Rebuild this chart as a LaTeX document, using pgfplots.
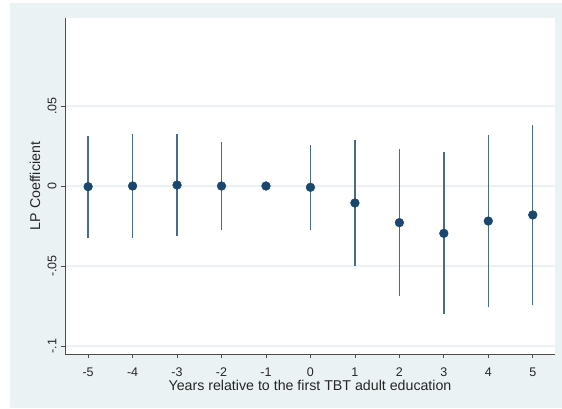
\documentclass[border=0pt]{standalone}
\usepackage{pgfplots}
\pgfplotsset{compat=1.18}
\usepackage{fontspec}
\setmainfont{Liberation Sans}
\definecolor{bg}{RGB}{234,242,243}
\definecolor{stgrid}{RGB}{234,242,243}
\definecolor{navy}{RGB}{26,71,111}
\pgfplotstableread{
x y ep em
-5 -0.0004 0.0318 0.0319
-4 0.0000 0.0325 0.0325
-3 0.0006 0.0319 0.0319
-2 0.0000 0.0275 0.0275
-1 0.0000 0.0000 0.0000
0 -0.0008 0.0266 0.0267
1 -0.0106 0.0396 0.0394
2 -0.0229 0.0460 0.0461
3 -0.0296 0.0509 0.0504
4 -0.0219 0.0539 0.0539
5 -0.0181 0.0561 0.0561
}\coef
\begin{document}
\begin{tikzpicture}[x=1pt,y=1pt]
\useasboundingbox (0,0) rectangle (562,408);
\fill[bg] (10,0) rectangle (562,405);
\begin{axis}[
  at={(65pt,54pt)}, anchor=south west,
  scale only axis, width=490pt, height=336pt,
  xmin=-5.52, xmax=5.5, ymin=-0.105, ymax=0.105,
  axis lines*=left,
  axis line style={-, black!70, line width=0.8pt},
  axis background/.style={fill=white},
  xtick={-5,-4,-3,-2,-1,0,1,2,3,4,5},
  xticklabels={-5,-4,-3,-2,-1,0,1,2,3,4,5},
  ytick={-0.1,-0.05,0,0.05},
  yticklabels={-.1,-.05,0,.05},
  tick align=outside, major tick length=4pt,
  tick style={black!70, line width=0.8pt},
  ymajorgrids, xmajorgrids=false,
  grid style={draw=stgrid, line width=1.2pt},
  every tick label/.append style={font=\fontsize{12.5}{14}\selectfont, text=black!85},
  yticklabel style={rotate=90, anchor=south, yshift=1pt},
  xticklabel style={inner sep=0pt, anchor=north, yshift=-9.5pt},
  xlabel={Years relative to the first TBT adult education},
  ylabel={LP Coefficient},
  every axis x label/.style={at={(axis description cs:0.5,0)}, anchor=center, inner sep=0pt, yshift=-31.5pt, font=\fontsize{14.2}{16}\selectfont, text=black!85},
  every axis y label/.style={at={(axis description cs:-0.0612,0.5)}, anchor=center, rotate=90, font=\fontsize{14.2}{16}\selectfont, text=black!85},
  clip=false,
]
\addplot[only marks, mark=*, mark size=4.4pt, color=navy,
  error bars/.cd, y dir=both, y explicit, error mark=none,
  error bar style={line width=1.4pt, color=navy!80}]
  table[x=x, y=y, y error plus=ep, y error minus=em] {\coef};
\end{axis}
\end{tikzpicture}
\end{document}
